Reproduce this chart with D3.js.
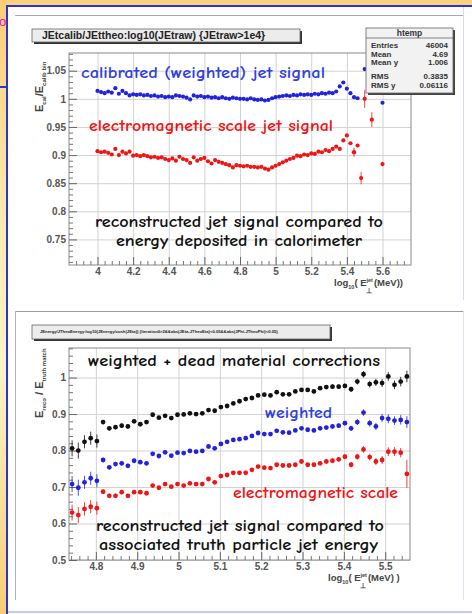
<!DOCTYPE html>
<html><head><meta charset="utf-8">
<script src="https://cdn.jsdelivr.net/npm/d3@7"></script>
<style>
html,body{margin:0;padding:0;background:#fff;}
svg{display:block;}
</style></head><body>
<svg id="c" width="472" height="614"></svg>
<script>
// ---------------- DATA ----------------
// Top plot: JEtcalib/JEttheo vs log10(JEtraw)
const topX = [4.00,4.02,4.04,4.06,4.08,4.10,4.12,4.14,4.16,4.18,
  4.20,4.22,4.24,4.26,4.28,4.30,4.32,4.34,4.36,4.38,
  4.40,4.42,4.44,4.46,4.48,4.50,4.52,4.54,4.56,4.58,
  4.60,4.62,4.64,4.66,4.68,4.70,4.72,4.74,4.76,4.78,
  4.80,4.82,4.84,4.86,4.88,4.90,4.92,4.94,4.96,4.98,
  5.00,5.02,5.04,5.06,5.08,5.10,5.12,5.14,5.16,5.18,
  5.20,5.22,5.24,5.26,5.28,5.30,5.32,5.34,5.36,5.38,
  5.40,5.42,5.44,5.46];
const topCalibrated = [1.014,1.012,1.010,1.013,1.011,1.019,1.009,1.014,1.010,1.006,
  1.008,1.007,1.008,1.006,1.007,1.005,1.006,1.004,1.005,1.003,
  1.004,1.003,1.006,1.005,1.004,1.002,0.999,1.006,1.004,1.005,
  1.003,1.004,1.002,1.003,1.001,1.003,1.001,1.000,1.002,1.001,
  1.000,1.000,0.999,1.001,0.999,0.998,0.999,0.997,0.998,1.001,
  1.003,1.004,1.005,1.006,1.005,1.007,1.006,1.008,1.007,1.008,
  1.007,1.009,1.008,1.010,1.009,1.011,1.010,1.013,1.022,1.029,
  1.018,1.010,1.003,1.001];
const topEM = [0.907,0.905,0.906,0.904,0.901,0.911,0.900,0.906,0.903,0.906,
  0.899,0.900,0.898,0.900,0.898,0.896,0.897,0.895,0.896,0.893,
  0.891,0.894,0.890,0.897,0.893,0.891,0.886,0.896,0.890,0.893,
  0.895,0.889,0.885,0.891,0.888,0.886,0.884,0.882,0.878,0.882,
  0.881,0.880,0.881,0.879,0.879,0.878,0.879,0.876,0.874,0.878,
  0.881,0.884,0.887,0.890,0.893,0.895,0.899,0.898,0.901,0.900,
  0.903,0.902,0.906,0.905,0.909,0.907,0.911,0.915,0.911,0.926,
  0.935,0.921,0.905,0.917];
const topCalibTailX = [5.50, 5.60];
const topCalibTailY = [1.053, 0.993];
const topEMTailX = [5.44, 5.48, 5.50, 5.54, 5.60];
const topEMTailY = [0.905, 0.859, 1.000, 0.963, 0.884];
const topEMTailErr = [0.008, 0.011, 0.016, 0.013, 0.004];
const topXTicks = [4, 4.2, 4.4, 4.6, 4.8, 5, 5.2, 5.4, 5.6];
const topXLabels = ["4","4.2","4.4","4.6","4.8","5","5.2","5.4","5.6"];
const topYTicks = [0.75, 0.8, 0.85, 0.9, 0.95, 1, 1.05];
const topYLabels = ["0.75","0.8","0.85","0.9","0.95","1","1.05"];
const statNames = ["Entries","Mean","Mean y","RMS","RMS y"];
const statValues = ["46004","4.69","1.006","0.3835","0.06116"];

// Bottom plot: E_reco / E_truth match vs log10(E_T jet)
const botX = [4.7425,4.7575,4.7725,4.7875,4.8025,4.8175,4.8325,4.8475,4.8625,4.8775,
  4.8925,4.9075,4.9225,4.9375,4.9525,4.9675,4.9825,4.9975,5.0125,5.0275,
  5.0425,5.0575,5.0725,5.0875,5.1025,5.1175,5.1325,5.1475,5.1625,5.1775,
  5.1925,5.2075,5.2225,5.2375,5.2525,5.2675,5.2825,5.2975,5.3125,5.3275,
  5.3425,5.3575,5.3725,5.3875,5.4025,5.4175,5.4325,5.4475,5.4625,5.4775,
  5.4925,5.5075,5.5225,5.5375,5.5525];
const botDeadMaterial = [0.806,0.800,0.824,0.834,0.826,0.878,0.861,0.864,0.868,0.866,
  0.880,0.872,0.878,0.898,0.890,0.895,0.889,0.898,0.899,0.902,
  0.900,0.902,0.911,0.909,0.919,0.922,0.929,0.935,0.941,0.944,
  0.951,0.953,0.951,0.960,0.954,0.954,0.962,0.966,0.966,0.962,
  0.971,0.974,0.975,0.975,0.977,0.968,0.989,1.009,0.982,0.987,
  0.985,1.003,0.980,0.989,1.003];
const botWeighted = [0.708,0.698,0.713,0.724,0.717,0.774,0.754,0.763,0.765,0.758,
  0.772,0.768,0.765,0.791,0.785,0.795,0.786,0.794,0.793,0.799,
  0.797,0.799,0.811,0.806,0.818,0.824,0.829,0.831,0.834,0.840,
  0.848,0.845,0.845,0.854,0.850,0.849,0.855,0.861,0.857,0.855,
  0.861,0.863,0.866,0.868,0.875,0.861,0.878,0.904,0.875,0.866,
  0.889,0.887,0.882,0.884,0.878];
const botEM = [0.630,0.623,0.640,0.646,0.642,0.687,0.676,0.676,0.686,0.676,
  0.686,0.686,0.683,0.704,0.698,0.708,0.701,0.708,0.704,0.710,
  0.708,0.708,0.722,0.713,0.730,0.733,0.739,0.739,0.739,0.747,
  0.756,0.753,0.752,0.761,0.759,0.759,0.761,0.770,0.761,0.761,
  0.765,0.770,0.772,0.776,0.783,0.761,0.783,0.803,0.782,0.770,
  0.774,0.797,0.797,0.794,0.736];
const botErr = [0.022,0.022,0.018,0.018,0.018,0.006,0.006,0.006,0.006,0.006,
  0.005,0.005,0.005,0.005,0.005,0.004,0.004,0.004,0.004,0.004,
  0.004,0.004,0.004,0.004,0.004,0.004,0.004,0.004,0.004,0.004,
  0.004,0.004,0.004,0.004,0.004,0.004,0.004,0.005,0.005,0.005,
  0.005,0.005,0.006,0.006,0.006,0.007,0.008,0.009,0.009,0.010,
  0.011,0.012,0.012,0.013,0.016];
const botEMLastErr = 0.038;
const botXTicks = [4.8, 4.9, 5, 5.1, 5.2, 5.3, 5.4, 5.5];
const botXLabels = ["4.8","4.9","5","5.1","5.2","5.3","5.4","5.5"];
const botYTicks = [0.5, 0.6, 0.7, 0.8, 0.9, 1];
const botYLabels = ["0.5","0.6","0.7","0.8","0.9","1"];

// ---------------- DRAW ----------------
const svg = d3.select("#c");
const defs = svg.append("defs");
const lg = defs.append("linearGradient").attr("id","lg").attr("x1",0).attr("y1",0).attr("x2",0).attr("y2",1);
lg.append("stop").attr("offset","0%").attr("stop-color","#fbcd78");
lg.append("stop").attr("offset","35%").attr("stop-color","#fde9b0");
lg.append("stop").attr("offset","60%").attr("stop-color","#fdf3c8");
lg.append("stop").attr("offset","100%").attr("stop-color","#f8cd78");

svg.append("rect").attr("width",472).attr("height",614).attr("fill","#fff");
svg.append("rect").attr("x",0).attr("y",0).attr("width",472).attr("height",5).attr("fill","#fbd17e");
svg.append("rect").attr("x",0).attr("y",0).attr("width",7).attr("height",614).attr("fill","url(#lg)");
// slide borders
svg.append("rect").attr("x",6).attr("y",5).attr("width",466).attr("height",2).attr("fill","#2a34d6");
svg.append("rect").attr("x",6).attr("y",5).attr("width",2).attr("height",609).attr("fill","#2a34d6");
svg.append("rect").attr("x",0).attr("y",86).attr("width",7).attr("height",2).attr("fill","#2a34d6");
svg.append("rect").attr("x",8).attr("y",611).attr("width",464).attr("height",2).attr("fill","#c8c8f0");
svg.append("text").attr("x",-1).attr("y",26).attr("font-family","Liberation Sans, Arial, sans-serif")
  .attr("font-size",13).attr("fill","#e010c8").text("o");
svg.append("line").attr("x1",463.5).attr("x2",463.5).attr("y1",7).attr("y2",300).attr("stroke","#d6dcec");

// canvases
svg.append("line").attr("x1",15).attr("x2",463).attr("y1",15.5).attr("y2",15.5).attr("stroke","#a8a8b8");
svg.append("line").attr("x1",15).attr("x2",463).attr("y1",311.5).attr("y2",311.5).attr("stroke","#9a9aaa");
svg.append("line").attr("x1",15.5).attr("x2",15.5).attr("y1",311).attr("y2",600).attr("stroke","#b0b0c0");
svg.append("line").attr("x1",463.5).attr("x2",463.5).attr("y1",311).attr("y2",600).attr("stroke","#e0e4ee");

const AX_FONT = "Liberation Sans, Arial, Helvetica, sans-serif";
const ANN_FONT = "'Comic Sans MS', 'Comic Neue', 'DejaVu Sans', sans-serif";

function titleBox(x, y, w, h, txt, fs, tx) {
  svg.append("rect").attr("x",x+2).attr("y",y+2).attr("width",w).attr("height",h).attr("fill","#333");
  svg.append("rect").attr("x",x).attr("y",y).attr("width",w).attr("height",h).attr("fill","#ececec").attr("stroke","#666").attr("stroke-width",0.8);
  svg.append("text").attr("x",tx).attr("y",y+h/2).attr("dy","0.35em").attr("font-family",AX_FONT)
    .attr("font-weight","bold").attr("font-size",fs).attr("fill","#222").text(txt);
}

function drawPlot(cfg) {
  const x = d3.scaleLinear().domain(cfg.xDomain).range([cfg.left, cfg.right]);
  const y = d3.scaleLinear().domain(cfg.yDomain).range([cfg.bottom, cfg.top]);
  const g = svg.append("g");
  const W = cfg.right - cfg.left, H = cfg.bottom - cfg.top;
  // grid
  g.append("g").attr("transform",`translate(0,${cfg.bottom})`)
    .call(d3.axisBottom(x).tickValues(cfg.xTicks).tickSize(-H).tickFormat(() => ""))
    .call(s => { s.select(".domain").remove(); s.selectAll("line").attr("stroke","#d2d2d2"); });
  g.append("g").attr("transform",`translate(${cfg.left},0)`)
    .call(d3.axisLeft(y).tickValues(cfg.yTicks).tickSize(-W).tickFormat(() => ""))
    .call(s => { s.select(".domain").remove(); s.selectAll("line").attr("stroke","#d2d2d2"); });
  // frame
  g.append("rect").attr("x",cfg.left).attr("y",cfg.top).attr("width",W).attr("height",H)
    .attr("fill","none").attr("stroke","#8a8a8a").attr("stroke-width",1);
  // minor ticks
  g.append("g").attr("transform",`translate(0,${cfg.bottom})`)
    .call(d3.axisBottom(x).tickValues(cfg.xMinor).tickSize(-4).tickFormat(() => ""))
    .call(s => { s.select(".domain").remove(); s.selectAll("line").attr("stroke","#777"); });
  g.append("g").attr("transform",`translate(${cfg.left},0)`)
    .call(d3.axisLeft(y).tickValues(cfg.yMinor).tickSize(-4).tickFormat(() => ""))
    .call(s => { s.select(".domain").remove(); s.selectAll("line").attr("stroke","#777"); });
  // major ticks + labels
  g.append("g").attr("transform",`translate(0,${cfg.bottom})`)
    .call(d3.axisBottom(x).tickValues(cfg.xTicks).tickSize(-8).tickPadding(3)
      .tickFormat((d,i) => cfg.xLabels[i]))
    .call(s => { s.select(".domain").remove(); s.selectAll("line").attr("stroke","#666");
      s.selectAll("text").attr("font-family",AX_FONT).attr("font-weight","bold").attr("font-size",10).attr("fill","#555"); });
  g.append("g").attr("transform",`translate(${cfg.left},0)`)
    .call(d3.axisLeft(y).tickValues(cfg.yTicks).tickSize(-8).tickPadding(3)
      .tickFormat((d,i) => cfg.yLabels[i]))
    .call(s => { s.select(".domain").remove(); s.selectAll("line").attr("stroke","#666");
      s.selectAll("text").attr("font-family",AX_FONT).attr("font-weight","bold").attr("font-size",10).attr("fill","#555"); });
  return {x, y, g};
}

function series(p, xs, ys, errs, color, r) {
  const grp = p.g.append("g");
  if (errs) {
    grp.selectAll("line.e").data(xs).join("line")
      .attr("x1", d => p.x(d)).attr("x2", d => p.x(d))
      .attr("y1", (d,i) => p.y(ys[i] - errs[i])).attr("y2", (d,i) => p.y(ys[i] + errs[i]))
      .attr("stroke", color).attr("stroke-width", 1).attr("opacity",0.8);
  }
  grp.selectAll("circle").data(xs).join("circle")
    .attr("cx", d => p.x(d)).attr("cy", (d,i) => p.y(ys[i])).attr("r", r).attr("fill", color);
}

function ann(txt, x, y, w, color, fs) {
  svg.append("text").attr("x",x).attr("y",y).attr("font-family",ANN_FONT).attr("font-weight","bold")
    .attr("font-size",fs).attr("fill",color).attr("textLength",w).attr("lengthAdjust","spacingAndGlyphs").text(txt);
}

function xTitle(x, y, tail) {
  const xt = svg.append("text").attr("x",x).attr("y",y).attr("font-family",AX_FONT)
    .attr("font-weight","bold").attr("font-size",9.5).attr("fill","#444");
  xt.append("tspan").text("log");
  xt.append("tspan").attr("font-size",5.5).attr("dy",3).text("10");
  xt.append("tspan").attr("dy",-3).text("( E");
  xt.append("tspan").attr("font-size",5.5).attr("dy",-4).text("jet");
  xt.append("tspan").attr("font-size",7).attr("dx",-7).attr("dy",11).text("⊥");
  xt.append("tspan").attr("dy",-7).attr("dx",2).text(tail);
}

// ----- TOP PLOT -----
titleBox(32, 29, 268, 13, "JEtcalib/JEttheo:log10(JEtraw) {JEtraw>1e4}", 10.5, 42);
const pTop = drawPlot({
  xDomain:[3.84, 5.76], yDomain:[0.7045, 1.0815],
  left:69, right:411, top:53, bottom:265,
  xTicks: topXTicks, xLabels: topXLabels, yTicks: topYTicks, yLabels: topYLabels,
  xMinor: d3.range(3.88, 5.75, 0.04).filter(v => !topXTicks.some(t => Math.abs(t-v) < 1e-6)),
  yMinor: d3.range(0.71, 1.081, 0.01).filter(v => !topYTicks.some(t => Math.abs(t-v) < 1e-6))
});
series(pTop, topX, topEM, null, "#ee1515", 2.1);
series(pTop, topEMTailX, topEMTailY, topEMTailErr, "#ee1515", 2.1);
series(pTop, topX, topCalibrated, null, "#2222dd", 2.1);
series(pTop, topCalibTailX, topCalibTailY, null, "#2222dd", 2.1);

// stats box
{
  const sx = 366, sy = 28, sw = 87, sh = 65;
  svg.append("rect").attr("x",sx+2).attr("y",sy+2).attr("width",sw).attr("height",sh).attr("fill","#444");
  svg.append("rect").attr("x",sx).attr("y",sy).attr("width",sw).attr("height",sh).attr("fill","#f2f2f2").attr("stroke","#666").attr("stroke-width",0.8);
  svg.append("line").attr("x1",sx).attr("x2",sx+sw).attr("y1",sy+10).attr("y2",sy+10).attr("stroke","#666").attr("stroke-width",0.8);
  svg.append("text").attr("x",sx+sw/2).attr("y",sy+8).attr("text-anchor","middle").attr("font-family",AX_FONT)
    .attr("font-weight","bold").attr("font-size",8.5).attr("fill","#333").text("htemp");
  const rowY = [48, 56.5, 65, 79, 88];
  statNames.forEach((n,i) => {
    svg.append("text").attr("x",sx+5).attr("y",rowY[i]).attr("font-family",AX_FONT).attr("font-weight","bold")
      .attr("font-size",8).attr("fill","#333").text(n);
    svg.append("text").attr("x",sx+sw-5).attr("y",rowY[i]).attr("text-anchor","end").attr("font-family",AX_FONT).attr("font-weight","bold")
      .attr("font-size",8).attr("fill","#333").text(statValues[i]);
  });
}

// axis titles top
{
  const t = svg.append("text").attr("transform","translate(43,112) rotate(-90)").attr("font-family",AX_FONT)
    .attr("font-weight","bold").attr("font-size",11).attr("fill","#444");
  t.append("tspan").text("E");
  t.append("tspan").attr("font-size",6).attr("dy",3).text("cal");
  t.append("tspan").attr("dy",-3).text("/E");
  t.append("tspan").attr("font-size",6).attr("dy",3).text("calib bin");
  xTitle(334, 286, "(MeV))");
}

ann("calibrated (weighted) jet signal", 81, 78, 244, "#3040dd", 15.5);
ann("electromagnetic scale jet signal", 89, 131, 244, "#ee1515", 15.5);
ann("reconstructed jet signal compared to", 95, 227, 288, "#111", 15.5);
ann("energy deposited in calorimeter", 116, 246, 246, "#111", 15.5);

// ----- BOTTOM PLOT -----
titleBox(32, 325, 298, 14,
  "JEnergy/JTheoEnergy:log10(JEnergy/cosh(JEta)) {Iteration0>2&&abs(JEta-JTheoEta)<0.05&&abs(JPhi-JTheoPhi)<0.05}", 4.2, 40);
const pBot = drawPlot({
  xDomain:[4.735, 5.56], yDomain:[0.5, 1.081],
  left:69, right:410, top:348, bottom:560,
  xTicks: botXTicks, xLabels: botXLabels, yTicks: botYTicks, yLabels: botYLabels,
  xMinor: d3.range(4.74, 5.56, 0.02).filter(v => !botXTicks.some(t => Math.abs(t-v) < 1e-6)),
  yMinor: d3.range(0.52, 1.08, 0.02).filter(v => !botYTicks.some(t => Math.abs(t-v) < 1e-6))
});
const botEMErr = botErr.map((e,i) => i === botErr.length - 1 ? botEMLastErr : e);
series(pBot, botX, botEM, botEMErr, "#ee1515", 2.4);
series(pBot, botX, botWeighted, botErr, "#2222dd", 2.4);
series(pBot, botX, botDeadMaterial, botErr, "#111", 2.4);

{
  const t = svg.append("text").attr("transform","translate(43,418) rotate(-90)").attr("font-family",AX_FONT)
    .attr("font-weight","bold").attr("font-size",11).attr("fill","#444");
  t.append("tspan").text("E");
  t.append("tspan").attr("font-size",6).attr("dy",3).text("reco");
  t.append("tspan").attr("dy",-3).text(" / E");
  t.append("tspan").attr("font-size",6).attr("dy",3).text("truth match");
  xTitle(328, 581, "(MeV) )");
}

ann("weighted + dead material corrections", 88, 366, 292, "#111", 16);
ann("weighted", 265, 418, 67, "#3040dd", 16);
ann("electromagnetic scale", 233, 498, 165, "#ee1515", 15.5);
ann("reconstructed jet signal compared to", 96, 531, 288, "#111", 16);
ann("associated truth particle jet energy", 99, 550, 279, "#111", 16);
</script>
</body></html>
